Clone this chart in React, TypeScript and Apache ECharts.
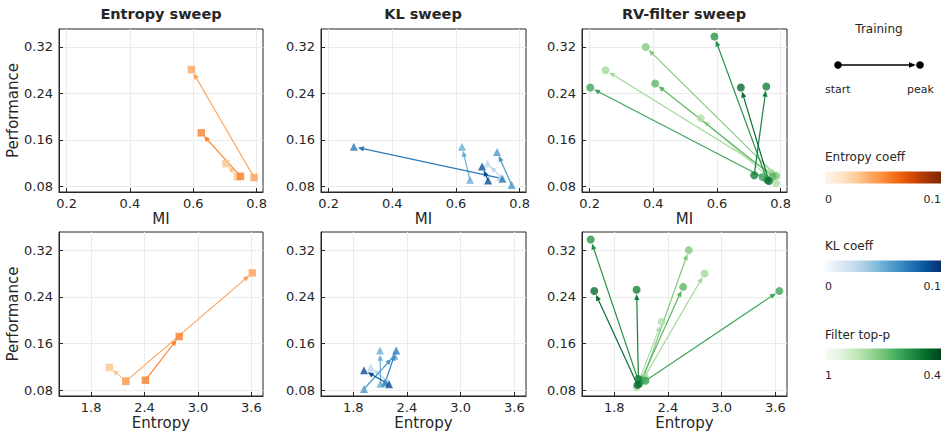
import React, { useEffect, useRef } from 'react';
import * as echarts from 'echarts';

// ---------- tick values ----------
const miTicks = [0.2, 0.4, 0.6, 0.8];
const entropyTicks = [1.8, 2.4, 3.0, 3.6];
const perfTicks = [0.08, 0.16, 0.24, 0.32];

// ---------- Entropy sweep (squares, Oranges) ----------
const entColors = ['#fdc692', '#fda35c', '#f9812e'];
const entMiStart = [0.739, 0.792, 0.749];
const entMiPeak = [0.703, 0.594, 0.625];
const entPerfStart = [0.096, 0.095, 0.097];
const entPerfPeak = [0.119, 0.281, 0.172];
const entEntStart = [2.19, 2.19, 2.41];
const entEntPeak = [2.005, 3.61, 2.79];

// ---------- KL sweep (triangles, Blues) ----------
const klColors = ['#bcd6ec', '#6aaed6', '#4a98c9', '#2a7ab9', '#0b4f99'];
const klMiStart = [0.74, 0.644, 0.775, 0.746, 0.701];
const klMiPeak = [0.699, 0.619, 0.729, 0.279, 0.682];
const klPerfStart = [0.096, 0.091, 0.082, 0.093, 0.09];
const klPerfPeak = [0.119, 0.148, 0.139, 0.148, 0.114];
const klEntStart = [2.18, 2.105, 1.92, 2.156, 2.2];
const klEntPeak = [1.995, 2.1, 2.258, 2.28, 1.92];

// ---------- RV-filter sweep (circles, Greens) ----------
const rvColors = ['#b2e0ab', '#a3d99c', '#7fc97e', '#5db761', '#3fa65a', '#2a924a', '#15803c', '#0a6b2f'];
const rvMiStart = [0.785, 0.771, 0.786, 0.775, 0.743, 0.757, 0.717, 0.763];
const rvMiPeak = [0.549, 0.25, 0.376, 0.406, 0.202, 0.592, 0.755, 0.675];
const rvPerfStart = [0.085, 0.103, 0.098, 0.097, 0.096, 0.091, 0.099, 0.089];
const rvPerfPeak = [0.197, 0.28, 0.32, 0.257, 0.25, 0.338, 0.252, 0.25];
const rvEntStart = [2.05, 2.14, 2.12, 2.1, 2.15, 2.08, 2.07, 2.06];
const rvEntPeak = [2.33, 2.81, 2.633, 2.57, 3.645, 1.537, 2.05, 1.577];

// ---------- colour bars ----------
const orangesStops = ['#fff5eb', '#fee6ce', '#fdd0a2', '#fdae6b', '#fd8d3c', '#f16913', '#d94801', '#a63603', '#7f2704'];
const bluesStops = ['#f7fbff', '#deebf7', '#c6dbef', '#9ecae1', '#6baed6', '#4292c6', '#2171b5', '#08519c', '#08306b'];
const greensStops = ['#f7fcf5', '#e5f5e0', '#c7e9c0', '#a1d99b', '#74c476', '#41ab5d', '#238b45', '#006d2c', '#00441b'];

const FONT = 'DejaVu Sans';
const INK = '#262626';

const grids = [
  { left: 59, top: 29, width: 204, height: 163 },
  { left: 321, top: 29, width: 205, height: 163 },
  { left: 582, top: 29, width: 205, height: 163 },
  { left: 59, top: 232, width: 204, height: 165 },
  { left: 321, top: 232, width: 205, height: 165 },
  { left: 582, top: 232, width: 205, height: 165 },
];

function arrowRender(params: any, api: any) {
  const p0 = api.coord([api.value(0), api.value(1)]);
  const p1 = api.coord([api.value(2), api.value(3)]);
  const dx = p1[0] - p0[0];
  const dy = p1[1] - p0[1];
  const len = Math.hypot(dx, dy) || 1;
  const ux = dx / len;
  const uy = dy / len;
  const shrink = 4.2;
  const head = 6;
  const hw = 2.6;
  const tip = [p1[0] - ux * shrink, p1[1] - uy * shrink];
  const base = [tip[0] - ux * head, tip[1] - uy * head];
  const color = api.visual('color');
  return {
    type: 'group',
    children: [
      {
        type: 'line',
        shape: { x1: p0[0], y1: p0[1], x2: base[0] + ux * 1, y2: base[1] + uy * 1 },
        style: { stroke: color, lineWidth: 1.2 },
      },
      {
        type: 'polygon',
        shape: {
          points: [
            tip,
            [base[0] - uy * hw, base[1] + ux * hw],
            [base[0] + uy * hw, base[1] - ux * hw],
          ],
        },
        style: { fill: color },
      },
    ],
  };
}

function makeGradient(stops: string[]) {
  return new echarts.graphic.LinearGradient(
    0, 0, 1, 0,
    stops.map((c, i) => ({ offset: i / (stops.length - 1), color: c }))
  );
}

export default function App() {
  const ref = useRef<HTMLDivElement>(null);

  useEffect(() => {
    if (!ref.current) return;
    const chart = echarts.init(ref.current, null, { renderer: 'svg' });

    const xAxes: any[] = [];
    const yAxes: any[] = [];
    grids.forEach((g, i) => {
      const top = i < 3;
      const ticks = top ? miTicks : entropyTicks;
      xAxes.push({
        gridIndex: i,
        type: 'value',
        min: top ? 0.176 : 1.44,
        max: top ? 0.82 : 3.73,
        axisLine: { show: true, onZero: false, lineStyle: { color: INK, width: 1 } },
        axisTick: { show: true, inside: true, length: 4, customValues: ticks, lineStyle: { color: INK } },
        axisLabel: {
          customValues: ticks,
          formatter: (v: number) => v.toFixed(1),
          margin: 5,
          color: INK,
          fontSize: 13,
          fontFamily: FONT,
        },
        splitLine: { show: true, lineStyle: { color: '#ebebeb', width: 1 } },
        name: top ? 'MI' : 'Entropy',
        nameLocation: 'middle',
        nameGap: 19,
        nameTextStyle: { fontSize: 15, color: INK, fontFamily: FONT },
      });
      yAxes.push({
        gridIndex: i,
        type: 'value',
        min: 0.07,
        max: 0.351,
        axisLine: { show: true, onZero: false, lineStyle: { color: INK, width: 1 } },
        axisTick: { show: true, inside: true, length: 4, customValues: perfTicks, lineStyle: { color: INK } },
        axisLabel: {
          customValues: perfTicks,
          formatter: (v: number) => v.toFixed(2),
          margin: 6,
          color: INK,
          fontSize: 13,
          fontFamily: FONT,
        },
        splitLine: { show: true, lineStyle: { color: '#ebebeb', width: 1 } },
        name: i % 3 === 0 ? 'Performance' : '',
        nameLocation: 'middle',
        nameGap: 38,
        nameTextStyle: { fontSize: 15, color: INK, fontFamily: FONT },
      });
    });

    const sweeps = [
      { colors: entColors, symbol: 'rect', size: 7.5, miS: entMiStart, miP: entMiPeak, pS: entPerfStart, pP: entPerfPeak, eS: entEntStart, eP: entEntPeak },
      { colors: klColors, symbol: 'triangle', size: 8, miS: klMiStart, miP: klMiPeak, pS: klPerfStart, pP: klPerfPeak, eS: klEntStart, eP: klEntPeak },
      { colors: rvColors, symbol: 'circle', size: 8, miS: rvMiStart, miP: rvMiPeak, pS: rvPerfStart, pP: rvPerfPeak, eS: rvEntStart, eP: rvEntPeak },
    ];

    const series: any[] = [];
    sweeps.forEach((s, col) => {
      [0, 1].forEach((row) => {
        const idx = row * 3 + col;
        const xs = row === 0 ? s.miS : s.eS;
        const xp = row === 0 ? s.miP : s.eP;
        const arrowData = s.colors.map((c, k) => ({
          value: [xs[k], s.pS[k], xp[k], s.pP[k]],
          itemStyle: { color: c },
        }));
        series.push({
          type: 'custom',
          xAxisIndex: idx,
          yAxisIndex: idx,
          renderItem: arrowRender,
          encode: { x: [0, 2], y: [1, 3] },
          data: arrowData,
          z: 2,
          silent: true,
        });
        const pts: any[] = [];
        s.colors.forEach((c, k) => {
          pts.push({ value: [xs[k], s.pS[k]], itemStyle: { color: c } });
          pts.push({ value: [xp[k], s.pP[k]], itemStyle: { color: c } });
        });
        series.push({
          type: 'scatter',
          xAxisIndex: idx,
          yAxisIndex: idx,
          symbol: s.symbol,
          symbolSize: s.size,
          data: pts,
          z: 3,
          silent: true,
        });
      });
    });

    const txt = (text: string, x: number, y: number, size: number, align = 'left', weight = 'normal') => ({
      type: 'text',
      x,
      y,
      silent: true,
      style: {
        text,
        align,
        verticalAlign: 'middle',
        fontSize: size,
        fontWeight: weight,
        fontFamily: FONT,
        fill: INK,
      },
    });

    const graphic: any[] = [
      txt('Entropy sweep', 161, 14, 14.5, 'center', 'bold'),
      txt('KL sweep', 423, 14, 14.5, 'center', 'bold'),
      txt('RV-filter sweep', 684, 14, 14.5, 'center', 'bold'),
      // Training legend
      txt('Training', 879, 29, 12, 'center'),
      { type: 'line', silent: true, shape: { x1: 838, y1: 65, x2: 911, y2: 65 }, style: { stroke: '#000', lineWidth: 1.3 } },
      { type: 'polygon', silent: true, shape: { points: [[916, 65], [909, 62.3], [909, 67.7]] }, style: { fill: '#000' } },
      { type: 'circle', silent: true, shape: { cx: 838, cy: 65, r: 3.8 }, style: { fill: '#000' } },
      { type: 'circle', silent: true, shape: { cx: 920, cy: 65, r: 3.8 }, style: { fill: '#000' } },
      txt('start', 825, 89, 11),
      txt('peak', 907, 89, 11),
      // Entropy coeff bar
      txt('Entropy coeff', 825, 157, 12),
      { type: 'rect', silent: true, shape: { x: 825, y: 171.5, width: 116, height: 12 }, style: { fill: makeGradient(orangesStops) } },
      txt('0', 825, 199, 11),
      txt('0.1', 941, 199, 11, 'right'),
      // KL coeff bar
      txt('KL coeff', 825, 246, 12),
      { type: 'rect', silent: true, shape: { x: 825, y: 260.5, width: 116, height: 11.5 }, style: { fill: makeGradient(bluesStops) } },
      txt('0', 825, 286.5, 11),
      txt('0.1', 941, 286.5, 11, 'right'),
      // Filter top-p bar
      txt('Filter top-p', 825, 335, 12),
      { type: 'rect', silent: true, shape: { x: 825, y: 348.5, width: 116, height: 11.5 }, style: { fill: makeGradient(greensStops) } },
      txt('1', 825, 375.5, 11),
      txt('0.4', 941, 375.5, 11, 'right'),
    ];

    chart.setOption({
      animation: false,
      backgroundColor: '#ffffff',
      grid: grids.map((g) => ({ ...g, show: true, borderColor: INK, borderWidth: 1, backgroundColor: 'transparent' })),
      xAxis: xAxes,
      yAxis: yAxes,
      series,
      graphic,
    });

    return () => chart.dispose();
  }, []);

  return (
    <div
      ref={ref}
      style={{ position: 'fixed', left: 0, top: 0, width: 943, height: 431, background: '#fff' }}
    />
  );
}
